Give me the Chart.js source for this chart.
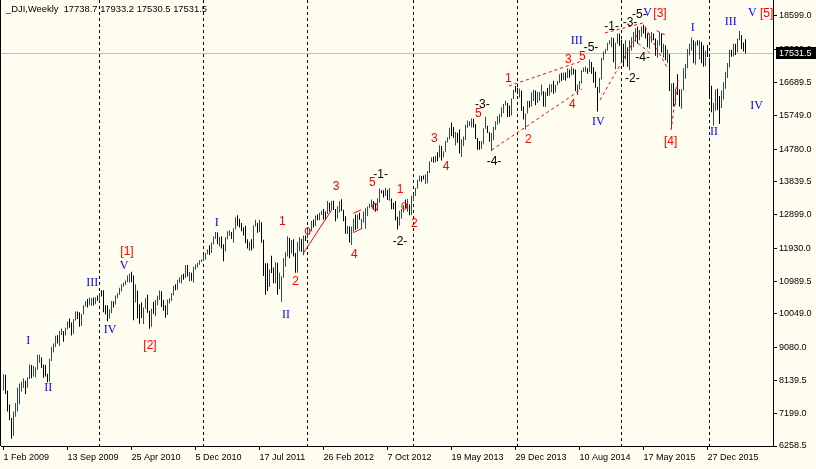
<!DOCTYPE html>
<html>
<head>
<meta charset="utf-8">
<script src="https://cdn.jsdelivr.net/npm/chart.js@4.4.0/dist/chart.umd.min.js"></script>
<style>
html, body { margin: 0; padding: 0; background: #FFFDEF; }
canvas { display: block; }
</style>
</head>
<body>
<canvas id="chart" width="816" height="469"></canvas>
<script>
// weekly bars, _DJI, from week of 1 Feb 2009 (index 0)
const highs = [].concat(
  // 2009
  [8320,8300,7850,7450,7060,7250,7490,7930,8050,8100, 8200,8130,8230,8600,8580,8560,8520,8880,8880,8800,
   8600,8580,8330,8760,9100,9200,9420,9440,9560,9630, 9560,9650,9830,9920,9800,9900,10120,10120,10100,10050,
   10300,10410,10480,10520,10500,10520,10530,10580],
  // 2010
  [10650,10730,10730,10300,10300,10180,10420,10410,10580,10640, 10800,10900,10950,11010,11150,11210,11260,11150,10900,10720,
   10330,10380,10230,10500,10600,10140,10200,10400,10450,10570, 10720,10700,10450,10300,10460,10500,10650,10860,10900,11030,
   11100,11170,11200,11450,11450,11250,11230,11400,11470,11520, 11590,11620],
  // 2011
  [11740,11800,11900,12020,12100,12280,12400,12390,12260,12280, 12050,12250,12420,12450,12400,12510,12820,12880,12780,12660,
   12530,12580,12190,12120,12190,12590,12750,12660,12750,12680, 12180,11500,11500,11330,11720,11380,11530,11520,11230,11130,
   11650,11820,12280,12230,12170,12190,11800,12110,12250,12200, 12300,12300],
  // 2012
  [12480,12490,12720,12760,12870,12900,12950,13010,13060,12990, 13290,13240,13290,13300,13060,13140,13280,13340,13040,12850,
   12570,12560,12560,12780,12900,12900,12950,12780,12990,13080, 13130,13210,13330,13290,13200,13370,13650,13600,13600,13660,
   13610,13660,13360,13240,13290,12840,13010,13060,13170,13330, 13350,13190],
  // 2013
  [13440,13500,13660,13900,14020,14010,14020,14060,14150,14420, 14540,14560,14590,14690,14890,14870,14720,15010,15120,15390,
   15540,15410,15270,15250,15340,15060,15140,15480,15600,15580, 15660,15650,15500,15100,15010,15010,15380,15710,15450,15260,
   15240,15420,15580,15720,15780,15980,16070,16170,16100,16030, 16230,16480],
  // 2014
  [16590,16540,16520,16460,16000,15800,16160,16170,16400,16480, 16460,16420,16420,16630,16440,16420,16530,16630,16640,16740,
   16620,16730,16930,16970,16980,16980,17090,17060,17150,17090, 17060,16630,16730,17050,17120,17150,17100,17350,17280,17130,
   17000,16560,16820,17400,17580,17660,17830,17900,17990,17970, 17830,18100,18100],
  // 2015
  [17920,17800,17900,17700,17900,17990,18140,18250,18290,18200, 18300,18350,18300,18100,18100,18140,18100,17950,17900,18140,
   18100,17800,17760,17640,17510,16660,16680,16520,16930,16500, 16500,17100,17220,17650,17800,17980,17900,17860,17900,17900,
   17850,17750,17600,17770],
  // 2016
  [17400,16600,16100,16490,16510,16300,16460,16700,17000,17250, 17630,17630,17800,17800,17950,18170,18050,17840,17933.2]
);

const lows = [].concat(
  [7850,7750,7250,7000,6470,6550,7100,7250,7460,7820, 7920,7750,7930,8180,8200,8250,8230,8450,8650,8500,
   8220,8250,8090,8100,8700,8950,9100,9200,9130,9440, 9250,9430,9600,9650,9430,9480,9860,9900,9680,9700,
   10030,10260,10230,10300,10280,10290,10330,10420],
  [10430,10550,10100,10030,9840,9920,10070,10230,10320,10500, 10600,10700,10830,10880,10960,10950,10960,9870,10380,9920,
   9770,9930,9760,10200,10080,9620,9680,10050,9980,10300, 10450,10250,10140,9940,10020,10350,10420,10580,10730,10740,
   10940,10920,11030,11080,11120,10990,11000,10950,11320,11380, 11460,11540],
  [11580,11600,11760,11740,11800,12040,12200,12050,11980,11930, 11560,11850,12190,12290,12200,12090,12480,12570,12530,12420,
   12300,12080,11930,11860,11870,11930,12560,12380,12400,12090, 11140,10600,10710,10820,11220,10930,10920,10600,10760,10400,
   11090,11400,11700,11650,11780,11700,11230,11230,11850,11830, 11730,12140],
  [12220,12320,12420,12530,12570,12740,12740,12890,12750,12750, 12920,12990,13040,13030,12710,12790,12960,13000,12710,12350,
   12340,12100,12030,12410,12460,12490,12750,12490,12670,12490, 12860,13080,13110,13040,12980,13000,13250,13510,13390,13430,
   13320,13300,13050,13050,12740,12470,12590,12780,12960,13080, 12980,12880],
  [12880,13300,13430,13640,13850,13840,13910,13780,13800,14090, 14410,14390,14400,14430,14540,14450,14540,14700,14970,15060,
   15150,15100,14880,14960,14650,14550,14860,15040,15390,15440, 15400,15400,15070,14760,14760,14780,14920,15360,15240,14990,
   14720,15030,15330,15480,15520,15700,15810,16030,15700,15700, 15740,16220],
  [16410,16360,16250,15870,15630,15340,15800,15970,16000,16160, 16040,16100,16170,16320,16000,15990,16300,16320,16400,16370,
   16400,16610,16680,16730,16760,16750,16820,16830,16900,16920, 16450,16330,16490,16660,16990,16990,16940,16990,16940,16680,
   16540,15860,16390,16780,17330,17510,17600,17780,17700,17270, 17070,17800,17740],
  [17260,17140,17350,17140,17040,17600,17700,17850,17800,17900, 18000,18100,17950,17700,17660,17840,17900,17460,17400,17750,
   17550,17400,17330,17250,16450,15370,16000,16050,16330,16000, 15940,16470,16800,17100,17470,17600,17240,17200,17750,17350,
   17240,17140,17160,17420],
  [16300,15840,15450,15880,15900,15500,15960,16200,16510,16820, 17130,17430,17440,17480,17560,17900,17650,17580,17530.5]
);

// u = close above open, d = close below open
const dirs = [
  'udddduuuuu','uduuduuuud','ddduuuuduu','duudduuddu','uuduudud',
  'udddduuduu','uuuuuuddud','dduudduduu','uddduuuudu','uudududuuu','uu',
  'uuuduuudud','duuuduuddd','ddduduudud','dddudduduu','uuududduud','ud',
  'uuududuudd','ududduuddd','uduududuuu','uuudduuddu','dudddduuud','ud',
  'uuuuudduuu','udududuuuu','ddudduuuuu','udddduuudd','uuuuuuuudd','uu',
  'ddudduuduu','duuududuud','uuudududud','duuuuududd','dduuuuuuud','uud',
  'dduduuuudu','uddduudduu','dududududd','uuuuuududu','ddud',
  'dduudduuuuududuuddd'
].join('');

const dateTicks = [0, 32, 64, 96, 128, 160, 192, 224, 256, 288, 320, 352];
const dateLabels = ['1 Feb 2009', '13 Sep 2009', '25 Apr 2010', '5 Dec 2010', '17 Jul 2011', '26 Feb 2012',
  '7 Oct 2012', '19 May 2013', '29 Dec 2013', '10 Aug 2014', '17 May 2015', '27 Dec 2015'];
const priceTicks = [18599.0, 17630.0, 16689.5, 15749.0, 14780.0, 13839.5, 12899.0, 11930.0,
  10989.5, 10049.0, 9080.0, 8139.5, 7199.0, 6258.5];
const yearStarts = [48, 100, 152, 205, 257, 309, 353];
const lastBar = { open: 17738.7, high: 17933.2, low: 17530.5, close: 17531.5 };

// wave labels: [text, bar index, price]
const blueLabels = [
  ['I', 12.4, 9280], ['II', 22.4, 7914], ['III', 44.4, 10928], ['IV', 53.25, 9588], ['V', 60.25, 11425],
  ['I', 106.6, 12667], ['II', 141.25, 10018], ['III', 286.6, 17891], ['IV', 297.4, 15566], ['V', 322.1, 18677],
  ['I', 344.6, 18246], ['II', 355.25, 15262], ['III', 363.6, 18436], ['IV', 376.6, 16025], ['V', 374.4, 18677]
];
const redLabels = [
  ['[1]', 61.75, 11835], ['[2]', 73.25, 9137], ['[3]', 328.25, 18677], ['[4]', 333.6, 14992], ['[5]', 381.6, 18657],
  ['1', 139.4, 12696], ['2', 146.1, 10974], ['3', 166.25, 13700], ['4', 175.4, 11760], ['5', 184.4, 13815],
  ['1', 198.25, 13606], ['2', 205.4, 12630], ['3', 215.4, 15090], ['4', 221.25, 14275], ['5', 237.4, 15807],
  ['1', 252.4, 16811], ['2', 262.4, 15041], ['3', 282.4, 17337], ['4', 284.4, 16045], ['5', 289.4, 17431]
];
const blackLabels = [
  ['-1-', 188.6, 14036], ['-2-', 198.25, 12122], ['-3-', 239.4, 16065], ['-4-', 245.25, 14418], ['-5-', 293.75, 17701],
  ['-1-', 304.1, 18293], ['-2-', 314.4, 16811], ['-3-', 313.25, 18419], ['-4-', 319.6, 17403], ['-5-', 317.9, 18628]
];
// lines: [index1, price1, index2, price2]
const redSolid = [
  [149.9, 11789, 164.1, 13032],
  [174.9, 12937, 178.75, 13032],
  [174.9, 12380, 179.4, 12506]
];
const redDashed = [
  [244.1, 14754, 289.25, 16505],
  [252.75, 16591, 289.25, 17308],
  [298.25, 16189, 318.25, 18198],
  [300.75, 18112, 319.75, 18399],
  [320.75, 18284, 331.6, 17145],
  [317.4, 17816, 323.25, 17529],
  [326.6, 18178, 330.75, 18054],
  [337.25, 16763, 333.75, 15328]
];
const redRings = [[152.1, 12429], [185.75, 13126], [200.4, 13146]];

const bg = '#FFFDEF';
const upColor = '#2F4F4F';
const downColor = '#000000';
const axisFont = { family: 'Liberation Sans', size: 9 };

const bars = highs.map((h, i) => ({ x: i, y: [lows[i], h] }));
const barColors = dirs.split('').map(d => d === 'u' ? upColor : downColor);

const overlay = {
  id: 'overlay',
  beforeDraw(chart) {
    const c = chart.ctx;
    c.save();
    c.fillStyle = bg;
    c.fillRect(0, 0, chart.width, chart.height);
    c.restore();
  },
  beforeDatasetsDraw(chart) {
    const c = chart.ctx, a = chart.chartArea;
    const xs = chart.scales.x, ys = chart.scales.y;
    c.save();
    // year separators
    c.strokeStyle = '#000';
    c.lineWidth = 1;
    c.setLineDash([3, 3]);
    yearStarts.forEach(i => {
      const x = Math.round(xs.getPixelForValue(i)) - 0.5;
      c.beginPath();
      c.moveTo(x, a.top);
      c.lineTo(x, a.bottom);
      c.stroke();
    });
    // current price line
    c.setLineDash([]);
    c.strokeStyle = '#C0C0C0';
    const py = Math.round(ys.getPixelForValue(lastBar.close)) + 0.5;
    c.beginPath();
    c.moveTo(a.left, py);
    c.lineTo(a.right, py);
    c.stroke();
    c.restore();
  },
  afterDatasetsDraw(chart) {
    const c = chart.ctx;
    const xs = chart.scales.x, ys = chart.scales.y;
    const px = v => xs.getPixelForValue(v), py = v => ys.getPixelForValue(v);
    c.save();
    c.strokeStyle = '#FF0000';
    c.lineWidth = 1;
    redSolid.forEach(l => {
      c.beginPath();
      c.moveTo(px(l[0]), py(l[1]));
      c.lineTo(px(l[2]), py(l[3]));
      c.stroke();
    });
    c.setLineDash([3, 3]);
    redDashed.forEach(l => {
      c.beginPath();
      c.moveTo(px(l[0]), py(l[1]));
      c.lineTo(px(l[2]), py(l[3]));
      c.stroke();
    });
    c.setLineDash([]);
    redRings.forEach(r => {
      c.beginPath();
      c.ellipse(px(r[0]), py(r[1]), 2.5, 3.5, 0, 0, Math.PI * 2);
      c.stroke();
    });
    c.textAlign = 'center';
    c.textBaseline = 'middle';
    c.font = '12px "Liberation Serif"';
    c.fillStyle = '#0000FF';
    blueLabels.forEach(t => c.fillText(t[0], px(t[1]), py(t[2])));
    c.font = '12px "Liberation Sans"';
    c.fillStyle = '#FF0000';
    redLabels.forEach(t => c.fillText(t[0], px(t[1]), py(t[2])));
    c.fillStyle = '#000';
    blackLabels.forEach(t => c.fillText(t[0], px(t[1]), py(t[2])));
    c.restore();
  },
  afterDraw(chart) {
    const c = chart.ctx, a = chart.chartArea;
    const ys = chart.scales.y;
    c.save();
    // left border
    c.fillStyle = '#000';
    c.fillRect(0, 0, 1, a.bottom);
    // header
    c.font = '9.4px "Liberation Sans"';
    c.textBaseline = 'middle';
    c.textAlign = 'left';
    const head = '_DJI,Weekly  ' + [lastBar.open, lastBar.high, lastBar.low, lastBar.close].map(v => v.toFixed(1)).join(' ');
    c.fillText(head, 6, 9);
    // current price tag
    c.font = '9px "Liberation Sans"';
    const y = Math.round(ys.getPixelForValue(lastBar.close));
    c.fillStyle = '#000';
    c.fillRect(a.right + 3, y - 6, chart.width - a.right - 3, 12);
    c.fillStyle = '#FFF';
    c.fillText(lastBar.close.toFixed(1), a.right + 6, y + 0.5);
    c.restore();
  }
};

new Chart(document.getElementById('chart'), {
  type: 'bar',
  data: {
    datasets: [{
      data: bars,
      backgroundColor: barColors,
      barThickness: 1,
      inflateAmount: 0,
      borderWidth: 0
    }]
  },
  options: {
    responsive: false,
    animation: false,
    devicePixelRatio: 1,
    layout: { padding: { left: 1, top: 0, right: 0, bottom: 0 } },
    plugins: { legend: { display: false }, tooltip: { enabled: false } },
    scales: {
      x: {
        type: 'linear',
        offset: false,
        min: -1.25,
        max: 384.75,
        afterBuildTicks: s => { s.ticks = dateTicks.map(v => ({ value: v })); },
        afterFit: s => { s.height = 23; s.paddingLeft = 0; s.paddingRight = 0; },
        ticks: {
          autoSkip: false, maxRotation: 0, align: 'start', padding: 2,
          font: axisFont, color: '#000',
          callback: v => dateLabels[dateTicks.indexOf(v)]
        },
        grid: { offset: false, drawOnChartArea: false, tickLength: 4, color: '#000' },
        border: { color: '#000' }
      },
      y: {
        type: 'linear',
        position: 'right',
        min: 6258.5,
        max: 19058,
        afterBuildTicks: s => { s.ticks = priceTicks.map(v => ({ value: v })); },
        afterFit: s => { s.width = 43; s.paddingTop = 0; s.paddingBottom = 0; },
        ticks: { padding: 2, font: axisFont, color: '#000', callback: v => v.toFixed(1) },
        grid: { drawOnChartArea: false, tickLength: 4, color: '#000' },
        border: { color: '#000' }
      }
    }
  },
  plugins: [overlay]
});
</script>
</body>
</html>
